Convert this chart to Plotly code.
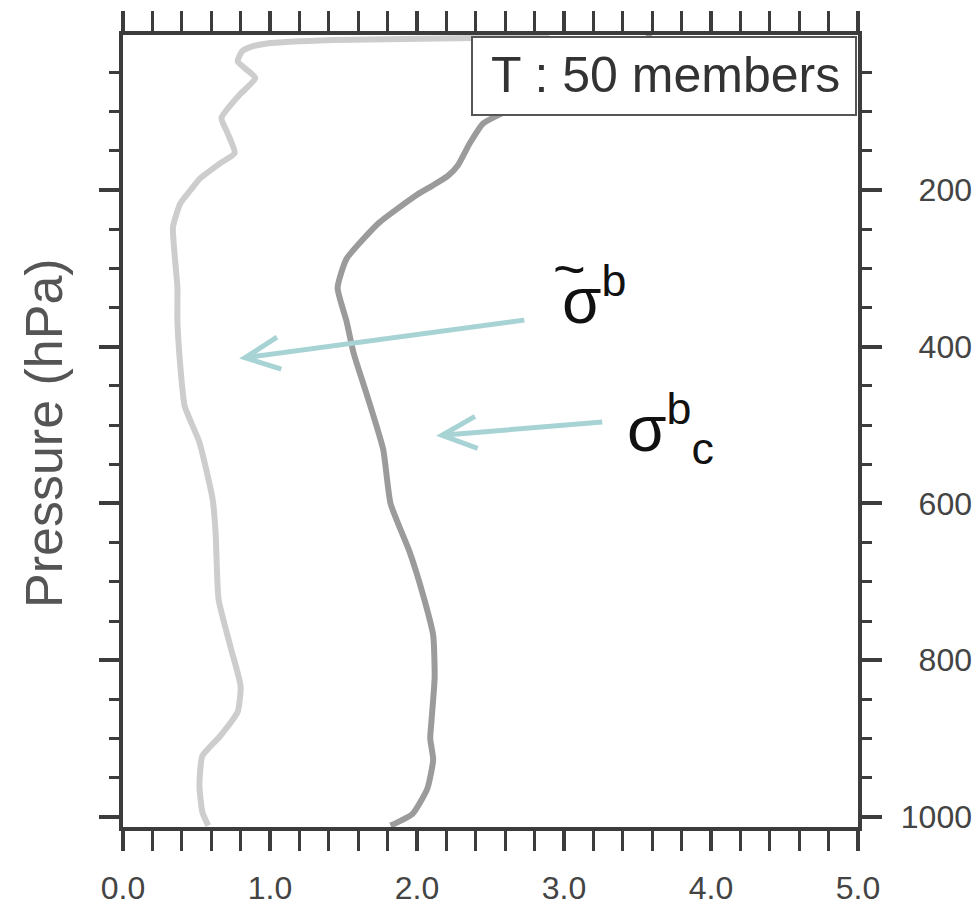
import math
import plotly.graph_objects as go

# ---- data ----
pressure_light = [3, 6, 8.5, 13, 18, 23, 36, 57, 79, 108, 127, 153, 166, 186, 200, 217, 247, 280,
                  324, 366, 425, 476, 522, 595, 637, 722, 782, 833, 866, 897, 922, 960, 994, 1011]
sigma_tilde = [2.9, 2.4, 1.43, 0.98, 0.86, 0.81, 0.78, 0.90, 0.79, 0.67, 0.71, 0.76, 0.66, 0.52, 0.46,
               0.39, 0.34, 0.35, 0.37, 0.37, 0.39, 0.42, 0.52, 0.61, 0.63, 0.65, 0.73, 0.80, 0.78,
               0.66, 0.54, 0.52, 0.54, 0.58]

pressure_dark = [3, 50, 100, 115, 140, 168, 182, 195, 206, 242, 288, 325, 367, 409, 462, 531, 600,
                 662, 716, 768, 822, 874, 900, 927, 964, 996, 1011]
sigma_c = [3.6, 3.1, 2.6, 2.45, 2.36, 2.28, 2.21, 2.10, 2.0, 1.74, 1.52, 1.46, 1.52, 1.57, 1.66,
           1.77, 1.82, 1.95, 2.04, 2.11, 2.12, 2.10, 2.09, 2.11, 2.07, 1.97, 1.82]

x_ticks = [0, 1, 2, 3, 4, 5]
x_ticklabels = ["0.0", "1.0", "2.0", "3.0", "4.0", "5.0"]
p_ticks = [200, 400, 600, 800, 1000]
p_ticklabels = ["200", "400", "600", "800", "1000"]

box_text = "T : 50 members"
label_tilde = "σ<sup>b</sup>"
tilde_mark = "~"
label_c = "σ<sup>b</sup><sub>c</sub>"
y_title = "Pressure (hPa)"

# ---- styling ----
FONT = "Liberation Sans, Arial, Helvetica, sans-serif"
AX = "#3c3c3c"
ARROW = "#a8d3d5"
P_RANGE = [1012.8, 2.2]
X_RANGE = [0, 5]
PLOT_W, PLOT_H = 735, 792
PX_PER_X = PLOT_W / (X_RANGE[1] - X_RANGE[0])
PX_PER_P = PLOT_H / (P_RANGE[0] - P_RANGE[1])


def xd(px):
    return (px - 123) / PLOT_W


def yd(py):
    return (827 - py) / PLOT_H


def arrow_path(tip, tail, arm_px=38, angle_deg=25):
    """SVG path (data coords) of a shaft plus an open V head at the tip."""
    dx = (tail[0] - tip[0]) * PX_PER_X
    dy = (tail[1] - tip[1]) * PX_PER_P
    n = math.hypot(dx, dy)
    ux, uy = dx / n, dy / n
    pts = []
    for s in (1, -1):
        a = math.radians(angle_deg) * s
        rx = ux * math.cos(a) - uy * math.sin(a)
        ry = ux * math.sin(a) + uy * math.cos(a)
        pts.append((tip[0] + rx * arm_px / PX_PER_X, tip[1] + ry * arm_px / PX_PER_P))
    return (f"M{tail[0]},{tail[1]} L{tip[0]},{tip[1]} "
            f"M{pts[0][0]},{pts[0][1]} L{tip[0]},{tip[1]} L{pts[1][0]},{pts[1][1]}")


fig = go.Figure()
fig.add_trace(go.Scatter(x=sigma_tilde, y=pressure_light, mode="lines",
                         line=dict(color="#cdcdcd", width=6, shape="spline", smoothing=0.5),
                         xaxis="x", yaxis="y", showlegend=False, hoverinfo="skip"))
fig.add_trace(go.Scatter(x=sigma_c, y=pressure_dark, mode="lines",
                         line=dict(color="#9b9b9b", width=6, shape="spline", smoothing=0.5),
                         xaxis="x", yaxis="y2", showlegend=False, hoverinfo="skip"))

fig.update_layout(
    width=972, height=905,
    margin=dict(l=123, r=0, t=35, b=78, autoexpand=False),
    paper_bgcolor="white", plot_bgcolor="white",
    font=dict(family=FONT, color="#333"),
    xaxis=dict(domain=[0, PLOT_W / 849], range=X_RANGE, tickvals=x_ticks, ticktext=x_ticklabels,
               showline=True, linecolor=AX, linewidth=4, mirror="allticks",
               ticks="outside", ticklen=20, tickwidth=4, tickcolor=AX,
               minor=dict(dtick=0.2, ticks="outside", ticklen=10, tickwidth=2.5, tickcolor=AX),
               showgrid=False, zeroline=False, automargin=False,
               tickfont=dict(size=32, color="#444", family=FONT), ticklabelstandoff=10),
    yaxis=dict(anchor="x", side="right", range=P_RANGE, tickvals=p_ticks,
               showline=True, linecolor=AX, linewidth=4, mirror="allticks",
               ticks="outside", ticklen=20, tickwidth=4, tickcolor=AX,
               minor=dict(dtick=50, ticks="outside", ticklen=10, tickwidth=2.5, tickcolor=AX),
               showgrid=False, zeroline=False, showticklabels=False, automargin=False),
    yaxis2=dict(overlaying="y", anchor="free", position=1, side="left", range=P_RANGE,
                tickvals=p_ticks, ticktext=p_ticklabels, showline=False, ticks="",
                showgrid=False, zeroline=False, automargin=False,
                tickfont=dict(size=32, color="#444", family=FONT)),
)

# title box
fig.add_shape(type="rect", xref="x domain", yref="y domain",
              x0=xd(472), x1=1 - 2 / PLOT_W, y0=yd(115), y1=1 - 2 / PLOT_H,
              fillcolor="white", line=dict(color="#555", width=2), layer="above")
fig.add_annotation(xref="x domain", yref="y domain", x=(xd(472) + 1) / 2, y=yd(75),
                   text=box_text, showarrow=False,
                   font=dict(size=50, color="#333", family=FONT),
                   xanchor="center", yanchor="middle")

# y-axis title on the left
fig.add_annotation(xref="paper", yref="paper", x=(44 - 123) / 849, y=(827 - 433) / 792,
                   text=y_title, textangle=-90, showarrow=False,
                   font=dict(size=52, color="#555", family=FONT),
                   xanchor="center", yanchor="middle")

# arrows (shaft + open V head)
for tip, tail in [((0.83, 414), (2.73, 366)), ((2.17, 513), (3.26, 496))]:
    fig.add_shape(type="path", xref="x", yref="y", path=arrow_path(tip, tail),
                  line=dict(color=ARROW, width=5), layer="above")

# sigma labels
fig.add_annotation(xref="x domain", yref="y domain", x=xd(594), y=yd(296),
                   text=label_tilde, showarrow=False,
                   font=dict(size=64, color="#111", family=FONT),
                   xanchor="center", yanchor="middle")
fig.add_annotation(xref="x domain", yref="y domain", x=xd(569), y=yd(268),
                   text=tilde_mark, showarrow=False,
                   font=dict(size=56, color="#111", family=FONT),
                   xanchor="center", yanchor="middle")
fig.add_annotation(xref="x domain", yref="y domain", x=xd(670), y=yd(428),
                   text=label_c, showarrow=False,
                   font=dict(size=64, color="#111", family=FONT),
                   xanchor="center", yanchor="middle")

fig.write_html("out.html")
